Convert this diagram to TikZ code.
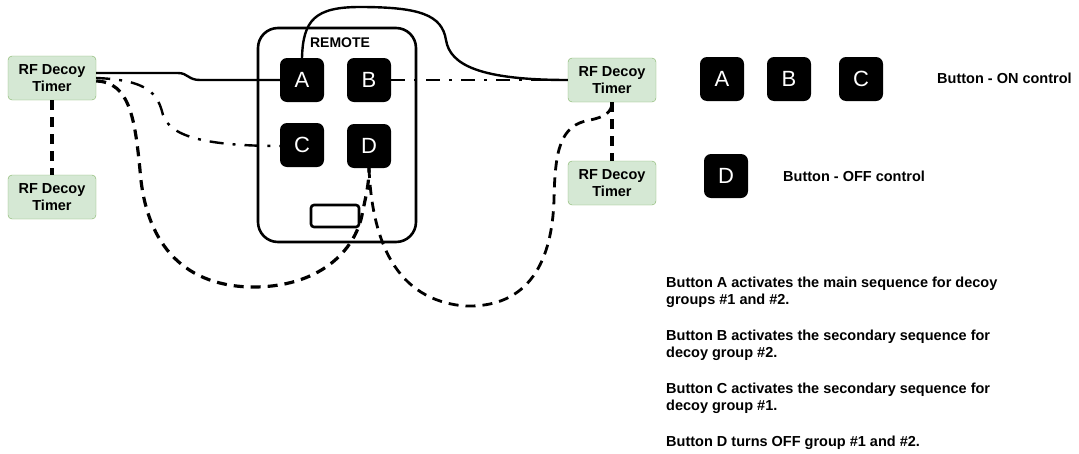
\documentclass[tikz,border=0pt]{standalone}
\usepackage{fontspec}
\setmainfont{Liberation Sans}
\usepackage{tikz}
\usetikzlibrary{positioning}
\usepackage{xcolor}
\definecolor{timerfill}{HTML}{D5E8D4}
\definecolor{timerline}{HTML}{82B366}
\tikzset{
  timer/.style={draw=timerline, fill=timerfill, rounded corners=4pt, minimum width=88pt, minimum height=44pt, align=center, inner sep=0pt, font=\fontsize{14.5}{16.5}\selectfont\bfseries},
  btn/.style={fill=black, rounded corners=7pt, minimum size=44pt, inner sep=0pt, text=white, font=\fontsize{22}{22}\selectfont},
  wire/.style={line width=2.4pt},
  dashdot wire/.style={line width=2.4pt, dash pattern=on 14pt off 9pt on 3pt off 9pt},
  dash wire/.style={line width=3.2pt, dash pattern=on 10pt off 7pt},
  note/.style={anchor=west, align=left, inner sep=0pt, font=\fontsize{14.5}{17}\selectfont\bfseries}
}
\begin{document}
\begin{tikzpicture}[x=1pt, y=-1pt]
  \useasboundingbox (0,0) rectangle (1079,453);
  \node[draw, line width=2.6pt, rounded corners=20pt, minimum width=158pt, minimum height=214pt] (remote) at (337,135) {};
  \node[font=\fontsize{14}{14}\selectfont\bfseries, inner sep=0pt] (remotelbl) at (340,43) {REMOTE};
  \node[draw, line width=2.6pt, rounded corners=3pt, minimum width=48pt, minimum height=22pt] (slot) at (335,216) {};

  \node[timer] (T1) at (52,78) {RF Decoy\\Timer};
  \node[timer] (T2) at (52,197) {RF Decoy\\Timer};
  \node[timer] (T3) at (612,80) {RF Decoy\\Timer};
  \node[timer] (T4) at (612,183) {RF Decoy\\Timer};

  \draw[wire] ([yshift=5pt]T1.east) -- (178,73) .. controls (188,73) and (188,80) .. (200,80) -- (281,80);
  \draw[wire] (302,58) .. controls (303,20) and (315,7) .. (360,7) .. controls (420,7) and (442,15) .. (446,40) .. controls (450,65) and (480,80) .. (T3.west);
  \draw[dashdot wire] (391,80) -- (T3.west);
  \draw[dashdot wire] (T1.east) .. controls (150,80) and (158,95) .. (163,115) .. controls (170,135) and (200,146) .. (281,146);
  \draw[dash wire] (T1.south) -- (T2.north);
  \draw[dash wire] (T3.south) -- (T4.north);
  \draw[dash wire] ([yshift=-3pt]T1.east) .. controls (130,82) and (135,120) .. (140,170) .. controls (145,240) and (180,285) .. (250,287) .. controls (320,288) and (355,250) .. (362,215) .. controls (366,195) and (369,185) .. (369,168);
  \draw[dash wire, line width=2.8pt] (369,168) .. controls (372,240) and (395,300) .. (465,306) .. controls (530,308) and (552,260) .. (554,200) .. controls (555,150) and (560,125) .. (590,120) .. controls (605,117) and (612,112) .. (T3.south);

  \node[btn] (A) at (302,80) {A};
  \node[btn] (B) at (369,80) {B};
  \node[btn] (C) at (302,145) {C};
  \node[btn] (D) at (369,146) {D};

  \node[btn] (LA) at (722,79) {A};
  \node[btn] (LB) at (789,79) {B};
  \node[btn] (LC) at (861,79) {C};
  \node[btn] (LD) at (726,176) {D};
  \node[note] (onlbl) at (937,78) {Button - ON control};
  \node[note] (offlbl) at (783,176) {Button - OFF control};

  \node[note] (noteA) at (666,292.5) {Button A activates the main sequence for decoy\\groups \#1 and \#2.};
  \node[note] (noteB) at (666,345.5) {Button B activates the secondary sequence for\\decoy group \#2.};
  \node[note] (noteC) at (666,398.5) {Button C activates the secondary sequence for\\decoy group \#1.};
  \node[note] (noteD) at (666,443) {Button D turns OFF group \#1 and \#2.};
\end{tikzpicture}
\end{document}
